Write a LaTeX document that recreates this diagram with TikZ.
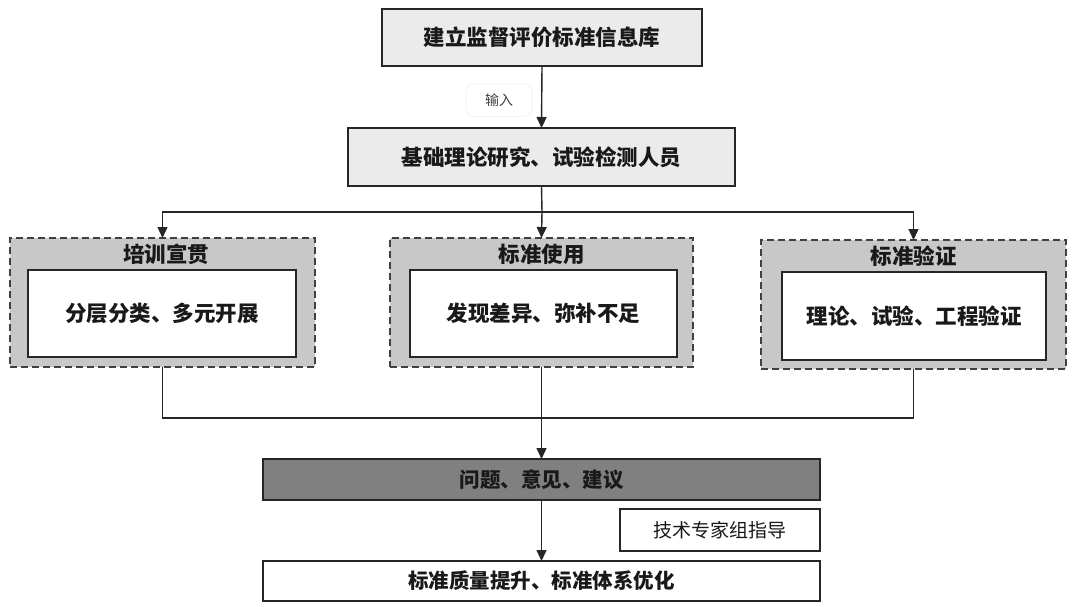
\documentclass[tikz,border=0pt]{standalone}
\usepackage{fontspec}
\setmainfont{Noto Sans CJK SC}
\usetikzlibrary{arrows.meta}
\definecolor{lightbox}{HTML}{EBEBEB}
\definecolor{groupfill}{HTML}{C8C8C8}
\definecolor{darkbox}{HTML}{808080}
\definecolor{linecol}{HTML}{262626}
\tikzset{
  box/.style={draw=linecol, line width=1.5pt, inner sep=0pt, outer sep=0pt, font=\bfseries\fontsize{21.5}{24}\selectfont, text=black!90},
  group/.style={draw=black!75, dashed, dash pattern=on 7pt off 4pt, line width=1.5pt, fill=groupfill, inner sep=0pt, outer sep=0pt},
  inner/.style={box, fill=white},
  gtitle/.style={font=\bfseries\fontsize{21.5}{24}\selectfont, text=black!90, inner sep=0pt},
  conn/.style={draw=linecol, line width=1.4pt},
  arr/.style={conn, -{Triangle[length=11pt,width=10pt]}}
}
\begin{document}
\begin{tikzpicture}[x=1pt,y=-1pt]
\fill[white] (0,0) rectangle (1076,606);
\useasboundingbox (0,0) rectangle (1076,606);

\node[box, fill=lightbox, minimum width=320pt, minimum height=57pt] (top) at (542,37.5) {建立监督评价标准信息库};
\node[box, fill=lightbox, minimum width=387pt, minimum height=58pt] (staff) at (541.5,157) {基础理论研究、试验检测人员};

\node[group, minimum width=305pt, minimum height=129pt] (g1) at (162.5,302.5) {};
\node[inner, minimum width=268pt, minimum height=87pt] (i1) at (162,313.5) {分层分类、多元开展};
\node[gtitle] (t1) at (166,254) {培训宣贯};

\node[group, minimum width=303pt, minimum height=129pt] (g2) at (541.5,302.5) {};
\node[inner, minimum width=267pt, minimum height=87pt] (i2) at (543.5,313.5) {发现差异、弥补不足};
\node[gtitle] (t2) at (541.5,254) {标准使用};

\node[group, minimum width=305pt, minimum height=129pt] (g3) at (913.5,304.5) {};
\node[inner, minimum width=264pt, minimum height=88pt] (i3) at (914,316) {理论、试验、工程验证};
\node[gtitle] (t3) at (913.5,256) {标准验证};

\node[box, fill=darkbox, minimum width=557pt, minimum height=41pt, font=\bfseries\fontsize{20.5}{23}\selectfont] (q) at (541.5,479.5) {问题、意见、建议};
\node[box, fill=white, minimum width=200pt, minimum height=42pt, line width=1.1pt, font=\fontsize{19}{22}\selectfont] (expert) at (720,530) {技术专家组指导};
\node[box, fill=white, minimum width=557pt, minimum height=40pt, font=\bfseries\fontsize{20.5}{23}\selectfont] (final) at (541.5,581) {标准质量提升、标准体系优化};

\node[draw=black!4, line width=1pt, rounded corners=8pt, minimum width=66pt, minimum height=33pt, font=\fontsize{14}{16}\selectfont, text=black!75, inner sep=0pt] (input) at (499,100) {输入};

\draw[arr] (top.south) -- (staff.north);
\coordinate (split) at (542,212);
\draw[conn] (staff.south) -- (split);
\draw[arr] (split) -| (g1.north);
\draw[arr] (split) -- (g2.north);
\draw[arr] (split) -| (g3.north);
\draw[conn] (g1.south) -- ++(0,51) -| (g3.south);
\draw[arr] (g2.south) -- (q.north);
\draw[arr] (q.south) -- (final.north);
\end{tikzpicture}
\end{document}
